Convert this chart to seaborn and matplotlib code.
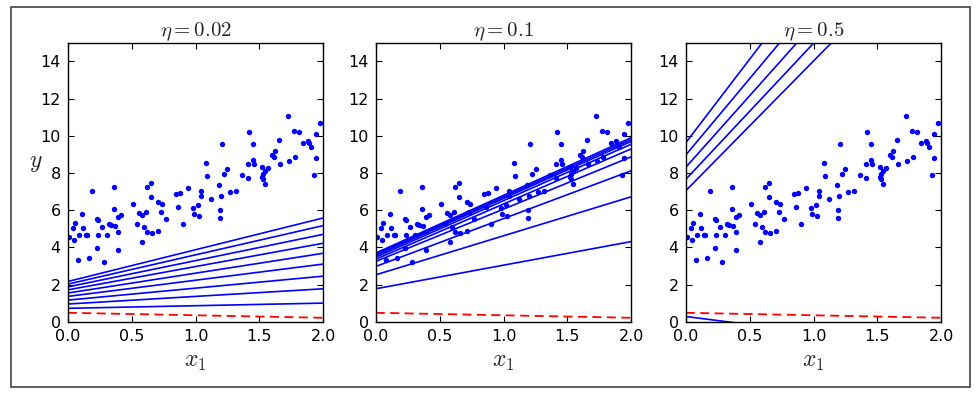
import matplotlib
matplotlib.use("Agg")
import matplotlib.pyplot as plt
import pandas as pd
import seaborn as sns

# training points
x_points = [0.19, 0.36, 0.65, 0.62, 0.65, 0.51, 0.36, 0.11, 0.42, 0.39,
            0.56, 0.61, 0.58, 0.23, 0.24, 0.06, 0.32, 0.34, 0.37, 0.27,
            0.54, 0.60, 0.04, 0.12, 0.39, 0.62, 0.66, 0.01, 0.05, 0.09,
            0.14, 0.15, 0.24, 0.31, 0.58, 0.23, 0.39, 0.08, 0.17, 0.28,
            1.21, 1.08, 1.25, 1.22, 1.09, 1.36, 1.18, 0.94, 1.04, 1.04,
            0.85, 0.88, 1.20, 1.27, 1.32, 1.12, 0.71, 0.74, 0.86, 0.98,
            1.02, 0.73, 1.19, 0.99, 1.03, 1.19, 0.77, 0.90, 0.71,
            1.72, 1.97, 1.77, 1.81, 1.42, 1.94, 1.65, 1.45, 1.84, 1.88,
            1.89, 1.90, 1.62, 1.60, 1.61, 1.94, 1.78, 1.73, 1.45, 1.46,
            1.41, 1.66, 1.52, 1.57, 1.54, 1.53, 1.52, 1.53, 1.41, 1.93, 1.54]
y_points = [7.04, 7.26, 7.47, 7.23, 6.69, 6.31, 6.05, 5.79, 5.76, 5.62,
            5.86, 5.90, 5.73, 5.50, 5.46, 5.33, 5.28, 5.18, 5.17, 5.08,
            5.26, 5.11, 5.02, 5.02, 4.81, 4.85, 4.76, 4.54, 4.40, 4.67,
            4.68, 4.66, 4.67, 4.68, 4.26, 3.97, 3.83, 3.33, 3.43, 3.20,
            9.53, 8.53, 8.19, 7.94, 7.85, 7.89, 7.37, 7.21, 7.04, 6.78,
            6.87, 6.90, 6.76, 6.99, 7.04, 6.58, 6.45, 6.33, 6.17, 6.12,
            6.26, 5.92, 6.01, 5.78, 5.69, 5.58, 5.53, 5.27, 4.88,
            11.05, 10.69, 10.26, 10.19, 10.18, 10.12, 9.78, 9.53, 9.59, 9.73,
            9.62, 9.40, 9.19, 8.95, 8.84, 8.80, 8.87, 8.65, 8.69, 8.48,
            8.49, 8.46, 8.32, 8.26, 8.10, 7.94, 7.76, 7.65, 7.73, 7.87, 7.39]

etas = [0.02, 0.1, 0.5]
titles = [r"$\eta = 0.02$", r"$\eta = 0.1$", r"$\eta = 0.5$"]

# starting guess (red dashed): prediction at x=0 and x=2
start_left = 0.48
start_right = 0.21

# predictions of the next iterations at x=0 (left) and x=2 (right)
left_002 = [0.72, 0.95, 1.16, 1.36, 1.54, 1.71, 1.87, 2.02, 2.16]
right_002 = [1.00, 1.77, 2.45, 3.10, 3.68, 4.22, 4.70, 5.17, 5.58]
left_01 = [1.77, 2.52, 2.97, 3.24, 3.36, 3.47, 3.56, 3.63, 3.69]
right_01 = [4.31, 6.72, 8.12, 8.87, 9.30, 9.55, 9.70, 9.80, 9.90]
left_05 = [9.62, 8.96, 8.30, 7.65, 7.04, 0.28]
right_05 = [27.6, 25.4, 23.7, 22.3, 21.0, -1.47]

lefts = [left_002, left_01, left_05]
rights = [right_002, right_01, right_05]

sns.set_theme(style="ticks", rc={
    "axes.edgecolor": "black",
    "axes.linewidth": 1.0,
    "xtick.direction": "in",
    "ytick.direction": "in",
    "xtick.top": True,
    "ytick.right": True,
})
plt.rcParams["font.family"] = ["DejaVu Sans"]
plt.rcParams["mathtext.fontset"] = "cm"

fig = plt.figure(figsize=(9.76, 3.94), dpi=100)
panel_x = [0.0694, 0.385, 0.7026]

for i in range(3):
    ax = fig.add_axes([panel_x[i], 0.1835, 0.2619, 0.708])
    sns.scatterplot(x=x_points, y=y_points, color="blue", s=15,
                    linewidth=0, ax=ax)

    rows = []
    for k, (a, b) in enumerate(zip(lefts[i], rights[i])):
        rows.append({"x": 0.0, "y": a, "line": k})
        rows.append({"x": 2.0, "y": b, "line": k})
    df = pd.DataFrame(rows)
    sns.lineplot(data=df, x="x", y="y", units="line", estimator=None,
                 color="blue", lw=1.2, ax=ax)
    sns.lineplot(x=[0.0, 2.0], y=[start_left, start_right], color="red",
                 lw=1.3, ls=(0, (5, 3)), ax=ax)

    ax.set_xlim(0, 2)
    ax.set_ylim(0, 15)
    ax.set_xticks([0.0, 0.5, 1.0, 1.5, 2.0])
    ax.set_xticklabels(["0.0", "0.5", "1.0", "1.5", "2.0"])
    ax.set_yticks(range(0, 15, 2))
    ax.tick_params(length=4, width=0.8, labelsize=11.5, pad=5, colors="black")
    for s in ax.spines.values():
        s.set_visible(True)
        s.set_color("black")
    ax.set_title(titles[i], fontsize=15, pad=5)
    ax.set_xlabel("$x_1$", fontsize=17)
    if i == 0:
        ax.set_ylabel("$y$", fontsize=17, rotation=0)
        ax.yaxis.set_label_coords(-0.125, 0.53)
    else:
        ax.set_ylabel("")

# thin frame around the whole figure
fig.add_artist(plt.Rectangle((0.0113, 0.0185), 0.9826, 0.963,
                             transform=fig.transFigure, fill=False,
                             edgecolor="#444444", lw=1.2))

fig.savefig("out.png", dpi=100)
